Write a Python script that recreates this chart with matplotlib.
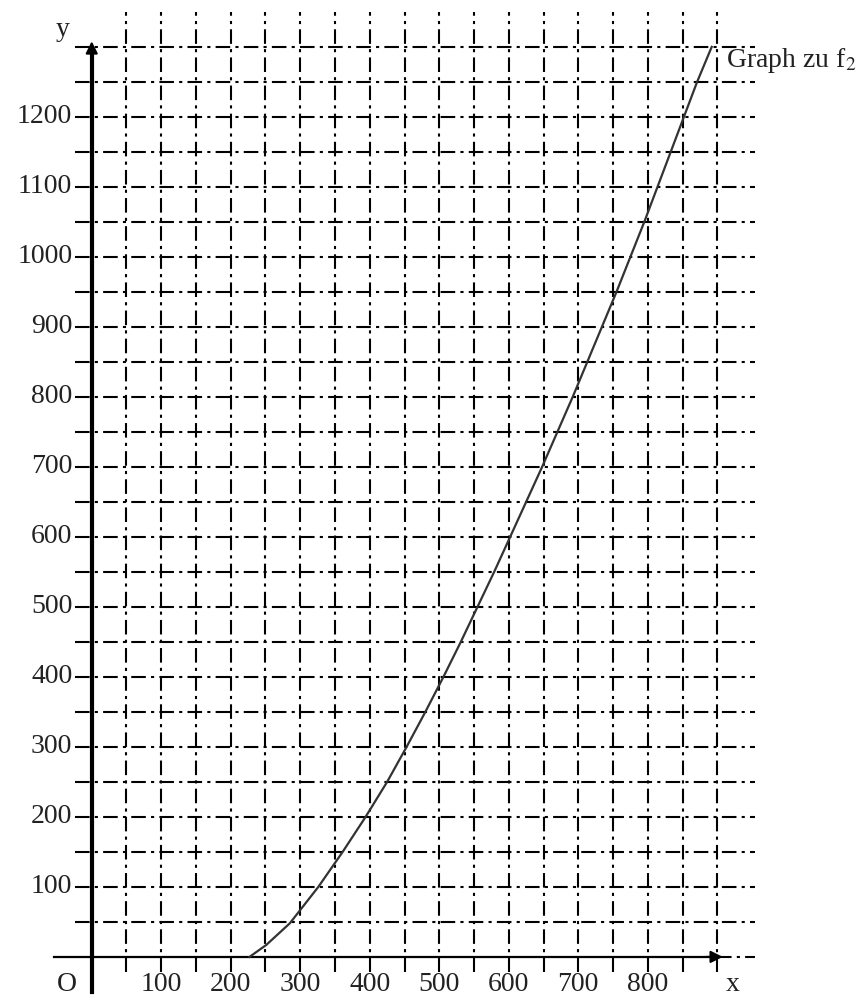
import matplotlib.pyplot as plt
import numpy as np

curve_x = [227, 251, 285, 326, 361, 394, 425, 453, 480, 506, 531, 555, 579,
           602, 625, 648, 670, 692, 713, 734, 755, 775, 795, 814, 833, 852, 871, 892]
curve_y = [0, 17, 48, 100, 150, 200, 250, 300, 350, 400, 450, 500, 550,
           600, 650, 700, 750, 800, 850, 900, 950, 1000, 1050, 1100, 1150, 1200, 1250, 1300]

x_ticks = [100, 200, 300, 400, 500, 600, 700, 800]
y_ticks = [100, 200, 300, 400, 500, 600, 700, 800, 900, 1000, 1100, 1200]
grid_x = np.arange(50, 901, 50)
grid_y = np.arange(50, 1301, 50)

plt.rcParams['font.family'] = ['Liberation Serif', 'DejaVu Serif']
plt.rcParams['mathtext.fontset'] = 'stix'

fig = plt.figure(figsize=(8.66, 10.01), dpi=100)
ax = fig.add_axes([0, 0, 1, 1])
ax.set_xlim(-132, 1114)
ax.set_ylim(-63, 1367)
ax.axis('off')

dashdot = (0, (7, 2.5, 1.5, 2.5))
for gx in grid_x:
    ax.plot([gx, gx], [-22, 1350], color='black', lw=1.5, ls=dashdot)
for gy in grid_y:
    ax.plot([-24, 955], [gy, gy], color='black', lw=1.5, ls=dashdot)

# axes with arrows
ax.plot([-55, 900], [0, 0], color='black', lw=1.6)
ax.plot([900, 955], [0, 0], color='black', lw=1.5, ls=dashdot)
ax.annotate('', xy=(912, 0), xytext=(880, 0),
            arrowprops=dict(arrowstyle='-|>', color='black', lw=1.5, mutation_scale=18))
ax.plot([0, 0], [-50, 1290], color='black', lw=3)
ax.annotate('', xy=(0, 1312), xytext=(0, 1280),
            arrowprops=dict(arrowstyle='-|>', color='black', lw=1.5, mutation_scale=18))

ax.plot(curve_x, curve_y, color='#333333', lw=1.6)

for xv in x_ticks:
    ax.text(xv, -40, str(xv), ha='center', va='center', fontsize=20, color='#222222')
for yv in y_ticks:
    ax.text(-28, yv, str(yv), ha='right', va='center', fontsize=20, color='#222222')

ax.text(-36, -40, 'O', ha='center', va='center', fontsize=20, color='#222222')
ax.text(-42, 1325, 'y', ha='center', va='center', fontsize=20, color='#222222')
ax.text(922, -40, 'x', ha='center', va='center', fontsize=20, color='#222222')
ax.text(913, 1280, 'Graph zu f$_2$', ha='left', va='center', fontsize=20, color='#222222')

fig.savefig('out.png', dpi=100)
